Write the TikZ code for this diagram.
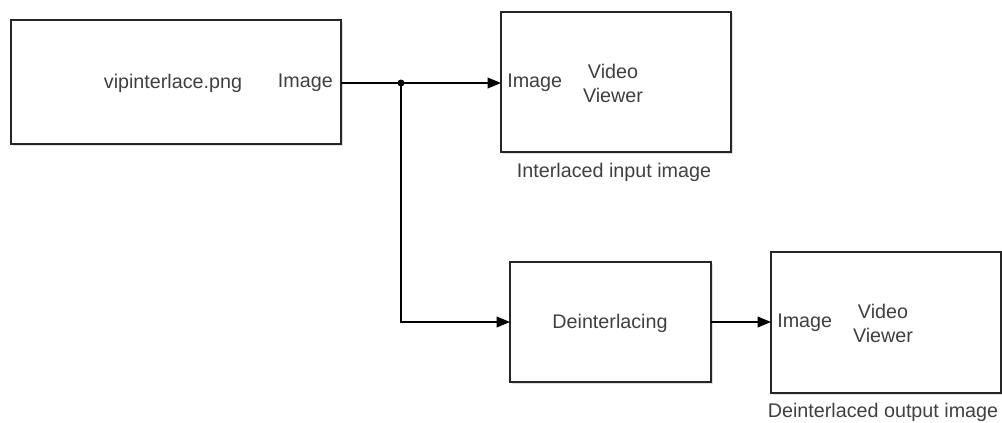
\documentclass[tikz,border=0pt]{standalone}
\usepackage{fontspec}
\setmainfont{Liberation Sans}
\usetikzlibrary{arrows.meta,shadows}

\begin{document}
\begin{tikzpicture}[x=0.75pt,y=0.75pt,yscale=-1,xscale=1,
  blk/.style={draw=black!85,fill=white,line width=1.4pt,outer sep=0pt,inner sep=0pt,
    drop shadow={opacity=0.25,shadow xshift=1.5pt,shadow yshift=-1.8pt}},
  txt/.style={inner sep=0.75pt,text=black!75,font=\fontsize{14.8}{18.5}\selectfont,align=center},
  sig/.style={line width=1.1pt,draw=black,-{Triangle[length=10pt,width=8pt]}}]
\useasboundingbox (0,0) rectangle (1002,422);

%Shape: Source block
\node[blk,minimum width=247.5pt,minimum height=93pt] (src) at (176,82) {};
%Shape: Viewer block (input)
\node[blk,minimum width=172.5pt,minimum height=105pt] (vin) at (616,82) {};
%Shape: Deinterlacing block
\node[blk,minimum width=150.75pt,minimum height=90pt] (dei) at (610.5,322) {};
%Shape: Viewer block (output)
\node[blk,minimum width=172.5pt,minimum height=105.75pt] (vout) at (886,322.5) {};

% Text Node
\node[txt] (srcname) at (173,83) {vipinterlace.png};
% Text Node
\node[txt,anchor=east] (srcport) at (334,83) {Image};
% Text Node
\node[txt,anchor=west] (vinport) at (506,83) {Image};
% Text Node
\node[txt] (vinname) at (613,83.5) {Video\\Viewer};
% Text Node
\node[txt] (vincap) at (614,172) {Interlaced input image};
% Text Node
\node[txt] (deiname) at (610,323) {Deinterlacing};
% Text Node
\node[txt,anchor=west] (voutport) at (776,323) {Image};
% Text Node
\node[txt] (voutname) at (883,323.5) {Video\\Viewer};
% Text Node
\node[txt] (voutcap) at (883,412) {Deinterlaced output image};

%Branch point
\coordinate (br) at (401,83);
\fill (br) circle (3.5);

%Straight Lines
\draw[sig] (src.east |- br) -- (vin.west |- br);
\draw[sig] (br) |- (dei.west);
\draw[sig] (dei.east) -- (vout.west |- dei.east);

\end{tikzpicture}
\end{document}
